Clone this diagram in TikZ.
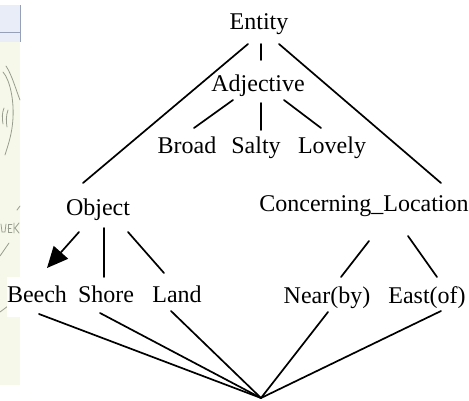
\documentclass[tikz,border=0pt]{standalone}
\usepackage{fontspec}
\setmainfont{Liberation Serif}
\usetikzlibrary{arrows.meta}
\definecolor{stripyellow}{RGB}{246,249,234}
\definecolor{stripblue}{RGB}{232,237,247}
\definecolor{stripedge}{RGB}{150,160,185}
\definecolor{pencil}{RGB}{120,126,112}
\begin{document}
\begin{tikzpicture}[x=1pt,y=-1pt,
  lbl/.style={anchor=base,inner sep=0pt,font=\fontsize{24}{28}\selectfont},
  edge/.style={line width=1.7pt,line cap=round},
  sketch/.style={draw=pencil,line width=0.8pt,opacity=0.75,line cap=round}]
\useasboundingbox (0,0) rectangle (469,400);

% scanned margin strip on the left
\fill[stripblue] (0,5) rectangle (20,42);
\draw[stripedge,line width=0.6pt] (0,32) -- (20,32);
\draw[stripedge,line width=0.8pt] (20,5) -- (20,42);
\fill[stripyellow] (0,42) rectangle (20,385);
\draw[sketch] (3,72) .. controls (10,80) and (14,100) .. (13,118)
              .. controls (12,135) and (8,145) .. (5,155);
\draw[sketch] (6,66) .. controls (12,75) and (16,90) .. (20,100);
\draw[sketch] (4,108) .. controls (2,113) and (2,118) .. (3,124);
\draw[sketch] (8,110) .. controls (6,116) and (6,121) .. (7,127);
\draw[sketch] (1,224) -- (2,232) -- (5,232) -- (6,224);
\draw[sketch] (12,224) -- (8,224) -- (8,232) -- (12,232) (8,228) -- (11,228);
\draw[sketch] (14,223) -- (14,233) (19,223) -- (15,228) -- (19,233);
\draw[sketch] (17,210) -- (20,206);
\draw[sketch] (0,256) -- (9,243);
\draw[sketch] (0,312) -- (8,306);
\fill[white] (7,277) rectangle (20,317);

% concept nodes
\node[lbl] (entity)     at (259,29)  {Entity};
\node[lbl] (adjective)  at (258,91)  {Adjective};
\node[lbl] (broad)      at (187,153) {Broad};
\node[lbl] (salty)      at (256,153) {Salty};
\node[lbl] (lovely)     at (332,153) {Lovely};
\node[lbl] (object)     at (98,215)  {Object};
\node[lbl] (concerning) at (364,211) {Concerning\_Location};
\node[lbl] (beech)      at (37,302)  {Beech};
\node[lbl] (shore)      at (106,302) {Shore};
\node[lbl] (land)       at (177,302) {Land};
\node[lbl] (near)       at (327,303) {Near(by)};
\node[lbl] (east)       at (427,303) {East(of)};
\coordinate (meet) at (261,398);

% hierarchy links
\draw[edge] ([shift={(-11,15)}]entity.base) -- ([shift={(-15,-32)}]object.base);
\draw[edge] ([shift={(2,15)}]entity.base)   -- ([shift={(3,-31)}]adjective.base);
\draw[edge] ([shift={(20,15)}]entity.base)  -- ([shift={(77,-28)}]concerning.base);
\draw[edge] ([shift={(-25,9)}]adjective.base) -- ([shift={(7,-25)}]broad.base);
\draw[edge] ([shift={(3,12)}]adjective.base)  -- ([shift={(5,-23)}]salty.base);
\draw[edge] ([shift={(26,9)}]adjective.base)  -- ([shift={(-11,-25)}]lovely.base);
\draw[edge,-{Triangle[length=21pt,width=19pt]}]
      ([shift={(-19,17)}]object.base) -- ([shift={(10,-34)}]beech.base);
\draw[edge] ([shift={(6,13)}]object.base)  -- ([shift={(-2,-25)}]shore.base);
\draw[edge] ([shift={(30,17)}]object.base) -- ([shift={(-13,-29)}]land.base);
\draw[edge] ([shift={(5,30)}]concerning.base)  -- ([shift={(14,-26)}]near.base);
\draw[edge] ([shift={(44,25)}]concerning.base) -- ([shift={(10,-26)}]east.base);

% links converging at the bottom
\draw[edge] ([shift={(2,12)}]beech.base)  -- (meet);
\draw[edge] ([shift={(-6,11)}]shore.base) -- (meet);
\draw[edge] ([shift={(-6,9)}]land.base)   -- (meet);
\draw[edge] ([shift={(1,9)}]near.base)    -- (meet);
\draw[edge] ([shift={(14,8)}]east.base)   -- (meet);
\end{tikzpicture}
\end{document}
